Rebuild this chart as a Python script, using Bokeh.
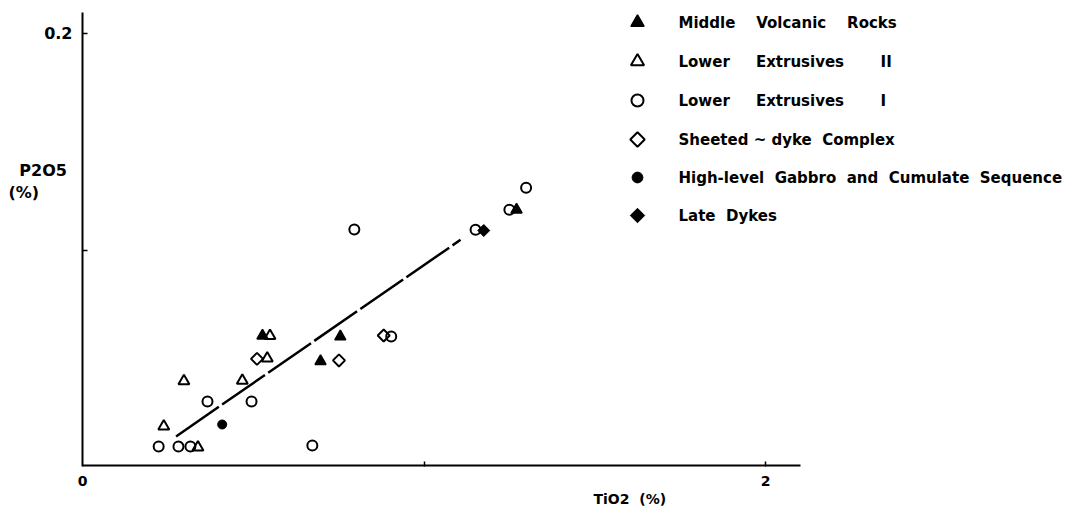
import math
from bokeh.plotting import figure
from bokeh.models import FixedTicker, Title
from bokeh.core.properties import value
from bokeh.embed import file_html
from bokeh.resources import INLINE

# ---------------- data ----------------
middle_volcanic_x = [0.527, 0.697, 0.755, 1.271]
middle_volcanic_y = [0.0604, 0.0486, 0.0600, 0.1186]

lower_ext2_x = [0.238, 0.297, 0.338, 0.468, 0.541, 0.549]
lower_ext2_y = [0.0185, 0.0394, 0.0089, 0.0397, 0.0500, 0.0604]

lower_ext1_x = [0.223, 0.281, 0.316, 0.366, 0.495, 0.673, 0.796, 0.904, 1.151, 1.250, 1.299]
lower_ext1_y = [0.0092, 0.0092, 0.0092, 0.0300, 0.0300, 0.0097, 0.1095, 0.0600, 0.1093, 0.1186, 0.1287]

sheeted_x = [0.511, 0.751, 0.882]
sheeted_y = [0.0497, 0.0490, 0.0605]

gabbro_x = [0.409]
gabbro_y = [0.0194]

late_dykes_x = [1.175]
late_dykes_y = [0.1090]

trend_x = [0.274, 1.107]
trend_y = [0.0139, 0.1047]

x_ticks = [0, 2]
x_tick_labels = {0: "0", 2: "2"}
x_tick_marks = [1, 2]
y_tick_marks = [0.1, 0.2]

NB = "\u00a0"
series_names = [
    f"Middle{NB*4}Volcanic{NB*4}Rocks",
    f"Lower{NB*5}Extrusives{NB*7}II",
    f"Lower{NB*5}Extrusives{NB*7}I",
    f"Sheeted{NB}~{NB}dyke{NB*2}Complex",
    f"High-level{NB*2}Gabbro{NB*2}and{NB*2}Cumulate{NB*2}Sequence",
    f"Late{NB*2}Dykes",
]

# ---------------- layout ----------------
W, H = 1068, 508
LEFT, TOP, BOTTOM_EDGE = 82, 12, 466
PX_PER_X = 341.5
PX_PER_Y = 2165.0
X_END = (W - LEFT) / PX_PER_X
Y_END = (BOTTOM_EDGE - TOP) / PX_PER_Y
X_AXIS_END = (800 - LEFT) / PX_PER_X

def dx(px):
    return (px - LEFT) / PX_PER_X

def dy(py):
    return (BOTTOM_EDGE - py) / PX_PER_Y

FONT = "DejaVu Sans"

p = figure(width=W, height=H, output_backend="svg", toolbar_location=None,
           x_range=(0, X_END), y_range=(0, Y_END),
           min_border_left=LEFT, min_border_right=0,
           min_border_top=TOP, min_border_bottom=H - BOTTOM_EDGE)
p.outline_line_color = None
p.grid.visible = False
p.background_fill_color = "white"
p.border_fill_color = "white"

for ax in (p.xaxis[0], p.yaxis[0]):
    ax.axis_line_width = 2
    ax.axis_line_color = "black"
    ax.major_tick_in = 0
    ax.major_tick_out = 0
    ax.minor_tick_line_width = 1.5
    ax.minor_tick_line_color = "black"
    ax.minor_tick_in = 5
    ax.minor_tick_out = 0
    ax.major_label_text_font = FONT
    ax.major_label_text_font_style = "bold"
    ax.major_label_text_color = "black"

# x axis: tick labels 0 and 2, small inward marks at 1 and 2
p.xaxis.axis_line_color = None
p.xaxis.ticker = FixedTicker(ticks=x_ticks, minor_ticks=x_tick_marks)
p.xaxis.major_label_overrides = x_tick_labels
p.xaxis.major_label_text_font_size = "14px"
p.xaxis.major_label_standoff = 9

# y axis: label 0.2 plus the axis title written beside the axis
Y_TITLE_1 = dy(170)
Y_TITLE_2 = dy(192)
p.yaxis.ticker = FixedTicker(ticks=[0.2, Y_TITLE_1, Y_TITLE_2], minor_ticks=y_tick_marks)
p.yaxis.major_label_overrides = {0.2: "0.2", Y_TITLE_1: "P2O5" + NB, Y_TITLE_2: "(%)" + NB * 6}
p.yaxis.major_label_text_font_size = "16px"
p.yaxis.major_label_standoff = 10

p.add_layout(Title(text=f"TiO2{NB*2}(%)", align="left", offset=593 - LEFT, standoff=0,
                   text_font=FONT, text_font_style="bold", text_font_size="14px",
                   text_color="black"), "below")

# drawn x-axis line (stops short of the legend area, as in the original)
p.segment(x0=[0], y0=[0], x1=[X_AXIS_END], y1=[0], line_color="black", line_width=4)

# trend line
p.line(trend_x, trend_y, line_color="black", line_width=2.5, line_dash="52 4")

styles = [
    dict(marker="triangle", size=11, fill_color="black", fill_alpha=1, line_width=1.5),
    dict(marker="triangle", size=11, fill_color="white", fill_alpha=0, line_width=2),
    dict(marker="circle", size=10, fill_color="white", fill_alpha=0, line_width=2),
    dict(marker="square", size=8.5, fill_color="white", fill_alpha=0, line_width=2, angle=math.pi / 4),
    dict(marker="circle", size=9, fill_color="black", fill_alpha=1, line_width=1),
    dict(marker="square", size=8.5, fill_color="black", fill_alpha=1, line_width=1, angle=math.pi / 4),
]
series = [
    (middle_volcanic_x, middle_volcanic_y),
    (lower_ext2_x, lower_ext2_y),
    (lower_ext1_x, lower_ext1_y),
    (sheeted_x, sheeted_y),
    (gabbro_x, gabbro_y),
    (late_dykes_x, late_dykes_y),
]
for (xs, ys), st in zip(series, styles):
    p.scatter(xs, ys, line_color="black", **st)

# legend (drawn by hand, top right)
legend_rows_px = [22, 61, 100, 139, 177, 215]
legend_marker_px, legend_text_px = 637, 678
for row_py, name, st in zip(legend_rows_px, series_names, styles):
    st_leg = dict(st)
    st_leg["size"] = st["size"] * 1.2
    p.scatter([dx(legend_marker_px)], [dy(row_py)], line_color="black", **st_leg)
    p.text([dx(legend_text_px)], [dy(row_py)], text=[name], text_align="left",
           text_baseline="middle", text_font=value(FONT), text_font_style="bold",
           text_font_size="15px", text_color="black")

open("out.html", "w").write(file_html(p, INLINE))
